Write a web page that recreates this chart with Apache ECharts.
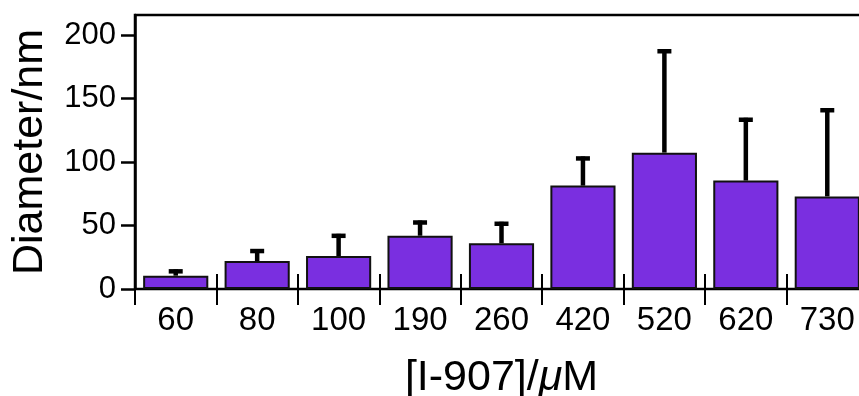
<!DOCTYPE html>
<html>
<head>
<meta charset="utf-8">
<script src="https://cdn.jsdelivr.net/npm/echarts@6/dist/echarts.min.js"></script>
<style>
html,body{margin:0;padding:0;background:#fff;}
#chart{width:859px;height:396px;}
</style>
</head>
<body>
<div id="chart"></div>
<script>
var categories = ['60', '80', '100', '190', '260', '420', '520', '620', '730'];
var diameters = [10.5, 22, 26, 42, 36, 81.5, 107.5, 85.5, 73];
var errorUpper = [15.5, 31.5, 43.5, 54, 53, 104.5, 189, 135, 142.5];
var yTicks = [0, 50, 100, 150, 200];

var FONT = '"Liberation Sans", Arial, Helvetica, sans-serif';
var chart = echarts.init(document.getElementById('chart'), null, {renderer: 'canvas'});

var errData = categories.map(function (c, i) { return [i, diameters[i], errorUpper[i]]; });

var option = {
  animation: false,
  backgroundColor: '#fff',
  grid: {
    left: 135, top: 15, width: 733, height: 274,
    outerBoundsMode: 'none',
    containLabel: false,
    show: true, borderColor: '#000', borderWidth: 2.5, backgroundColor: 'transparent'
  },
  xAxis: {
    type: 'category',
    data: categories,
    boundaryGap: true,
    position: 'bottom',
    offset: -15,
    axisLine: {show: false, onZero: false},
    axisTick: {show: true, inside: false, length: 31, lineStyle: {color: '#000', width: 2}},
    axisLabel: {color: '#000', fontFamily: FONT, fontSize: 33, margin: 30},
    name: '[I-907]/{i|\u03bc}M',
    nameLocation: 'middle',
    nameGap: 83,
    nameTextStyle: {
      color: '#000', fontFamily: FONT, fontSize: 43,
      rich: {i: {color: '#000', fontFamily: FONT, fontSize: 43, fontStyle: 'italic'}}
    }
  },
  yAxis: {
    type: 'value',
    min: 0, max: 216, interval: 50,
    splitLine: {show: false},
    axisLine: {show: true, lineStyle: {color: '#000', width: 2.5}},
    axisTick: {show: true, length: 14, lineStyle: {color: '#000', width: 2.5}, customValues: yTicks},
    axisLabel: {color: '#000', fontFamily: FONT, fontSize: 31, margin: 19, customValues: yTicks},
    name: 'Diameter/nm',
    nameLocation: 'middle',
    nameGap: 83,
    nameTextStyle: {color: '#000', fontFamily: FONT, fontSize: 43}
  },
  series: [{
    type: 'bar',
    data: diameters,
    barWidth: '80%',
    itemStyle: {color: '#7a2fe0', borderColor: '#111', borderWidth: 2},
    z: 2
  }, {
    type: 'custom',
    data: errData,
    z: 3,
    renderItem: function (params, api) {
      var x = api.value(0);
      var top = api.coord([x, api.value(2)]);
      var base = api.coord([x, api.value(1)]);
      var cx = top[0];
      var half = 7;
      return {
        type: 'group',
        children: [{
          type: 'line',
          shape: {x1: cx, y1: base[1], x2: cx, y2: top[1]},
          style: {stroke: '#000', lineWidth: 4.5}
        }, {
          type: 'line',
          shape: {x1: cx - half, y1: top[1] + 2, x2: cx + half, y2: top[1] + 2},
          style: {stroke: '#000', lineWidth: 4.5}
        }]
      };
    }
  }]
};
chart.setOption(option);
</script>
</body>
</html>
